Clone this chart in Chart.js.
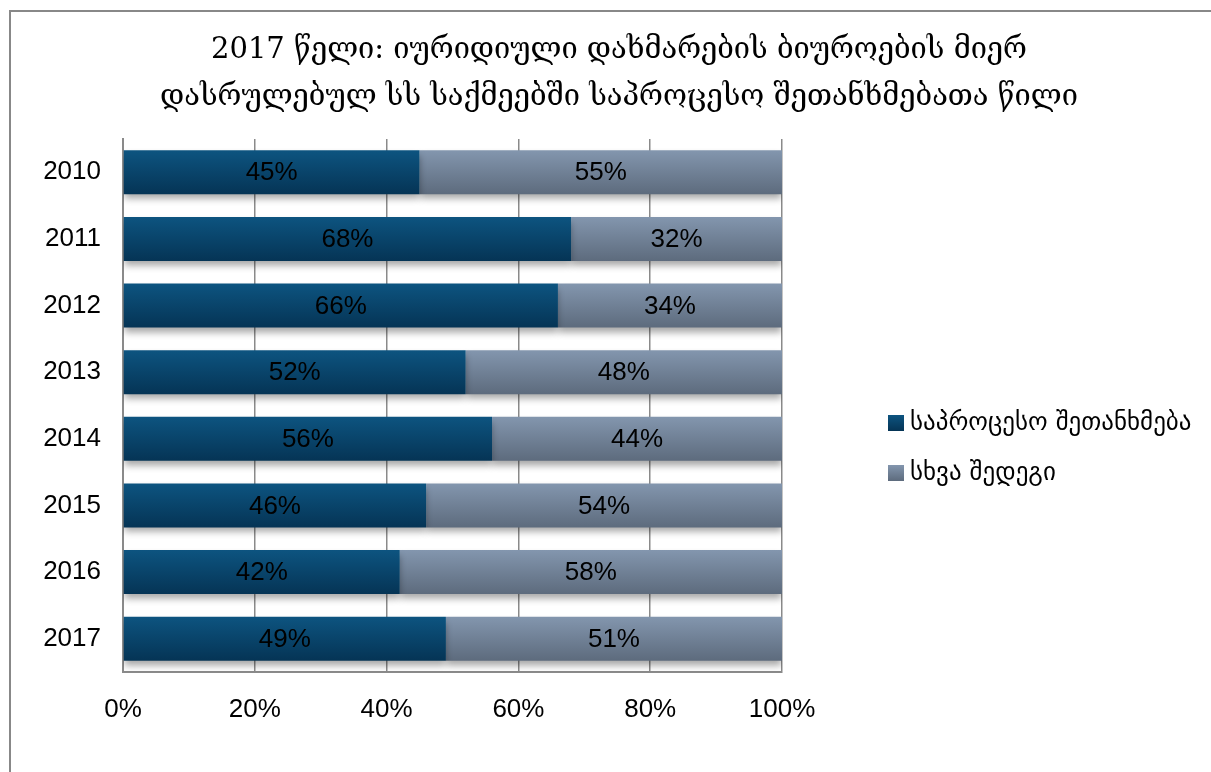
<!DOCTYPE html>
<html>
<head>
<meta charset="utf-8">
<script src="https://cdn.jsdelivr.net/npm/chart.js@4/dist/chart.umd.min.js"></script>
<style>
  html, body { margin: 0; padding: 0; background: #fff; }
  #wrap { position: relative; width: 1211px; height: 772px; overflow: hidden; }
  #frame { position: absolute; left: 9px; top: 10px; width: 1300px; height: 900px;
           border-left: 2px solid #888; border-top: 2px solid #888; pointer-events: none; }
  canvas { position: absolute; left: 0; top: 0; }
</style>
</head>
<body>
<div id="wrap">
  <canvas id="chart" width="1211" height="772"></canvas>
  <div id="frame"></div>
</div>
<script>
// dados do gráfico
const years = ['2010', '2011', '2012', '2013', '2014', '2015', '2016', '2017'];
const plea = [45, 68, 66, 52, 56, 46, 42, 49];
const other = [55, 32, 34, 48, 44, 54, 58, 51];
const seriesNames = ['საპროცესო შეთანხმება', 'სხვა შედეგი'];
const xTicks = [0, 20, 40, 60, 80, 100];
const titleLines = ['2017 წელი: იურიდიული დახმარების ბიუროების მიერ', 'დასრულებულ სს საქმეებში საპროცესო შეთანხმებათა წილი'];

const geoSerif = '"DejaVu Serif", "Liberation Serif", serif';
const sans = '"Liberation Sans", Arial, sans-serif';
const geoSans = '"DejaVu Sans", "Liberation Sans", sans-serif';

const palettes = [['#0d5480', '#053455'], ['#8396ae', '#5d6b7d']];

// gradiente vertical para cada barra
const barGradient = (dsIndex) => (ctx) => {
    const chart = ctx.chart;
    if (!chart.chartArea || ctx.dataIndex === undefined) return palettes[dsIndex][0];
    const y = chart.scales.y.getPixelForValue(ctx.dataIndex);
    const g = chart.ctx.createLinearGradient(0, y - 22, 0, y + 22);
    g.addColorStop(0, palettes[dsIndex][0]);
    g.addColorStop(1, palettes[dsIndex][1]);
    return g;
};

const shadowPlugin = {
    id: 'shadow',
    beforeDatasetsDraw(chart) {
        const c = chart.ctx;
        c.save();
        c.shadowColor = 'rgba(0,0,0,0.35)';
        c.shadowBlur = 7;
        c.shadowOffsetX = 0;
        c.shadowOffsetY = 5;
    },
    afterDatasetsDraw(chart) {
        chart.ctx.restore();
    }
};

const labelsPlugin = {
    id: 'valueLabels',
    afterDatasetsDraw(chart) {
        const c = chart.ctx;
        c.save();
        c.font = '26px ' + sans;
        c.fillStyle = '#000';
        c.textAlign = 'center';
        c.textBaseline = 'middle';
        chart.data.datasets.forEach((ds, di) => {
            chart.getDatasetMeta(di).data.forEach((bar, i) => {
                const cx = (bar.x + bar.base) / 2;
                c.fillText(ds.data[i] + '%', cx, bar.y + 1);
            });
        });
        c.restore();
    }
};

// título e legenda desenhados à mão para ficar na posição certa
const decorPlugin = {
    id: 'decor',
    afterDraw(chart) {
        const c = chart.ctx;
        c.save();
        c.fillStyle = '#000';
        c.textBaseline = 'middle';
        c.textAlign = 'center';
        c.font = '29px ' + geoSerif;
        titleLines.forEach((line, i) => c.fillText(line, 619, 50 + i * 47));

        c.font = '25px ' + geoSans;
        c.textAlign = 'left';
        seriesNames.forEach((name, i) => {
            const y = 423 + i * 50;
            const g = c.createLinearGradient(0, y - 8, 0, y + 8);
            g.addColorStop(0, palettes[i][0]);
            g.addColorStop(1, palettes[i][1]);
            c.fillStyle = g;
            c.fillRect(888, y - 8, 16, 16);
            c.fillStyle = '#000';
            c.fillText(name, 910, y);
        });
        c.restore();
    }
};

new Chart(document.getElementById('chart').getContext('2d'), {
    type: 'bar',
    data: {
        labels: years,
        datasets: [
            { label: seriesNames[0], data: plea, backgroundColor: barGradient(0), borderWidth: 0 },
            { label: seriesNames[1], data: other, backgroundColor: barGradient(1), borderWidth: 0 }
        ]
    },
    options: {
        indexAxis: 'y',
        responsive: false,
        animation: false,
        layout: { padding: { left: 0, right: 429, top: 139, bottom: 0 } },
        datasets: { bar: { barPercentage: 0.66, categoryPercentage: 1 } },
        scales: {
            x: {
                stacked: true,
                min: 0, max: 100,
                afterBuildTicks: (axis) => { axis.ticks = xTicks.map(v => ({ value: v })); },
                afterFit: (axis) => { axis.height = 100; },
                ticks: { callback: v => v + '%', font: { family: sans, size: 26 }, color: '#000', padding: 22 },
                grid: { color: '#8a8a8a', lineWidth: 1.5, drawTicks: false },
                border: { color: '#8a8a8a', width: 2 }
            },
            y: {
                stacked: true,
                afterFit: (axis) => { axis.width = 123; },
                ticks: { font: { family: sans, size: 26 }, color: '#000', padding: 22 },
                grid: { display: false, drawTicks: false },
                border: { color: '#8a8a8a', width: 2 }
            }
        },
        plugins: {
            legend: { display: false },
            tooltip: { enabled: false },
            title: { display: false }
        }
    },
    plugins: [shadowPlugin, labelsPlugin, decorPlugin]
});
</script>
</body>
</html>
